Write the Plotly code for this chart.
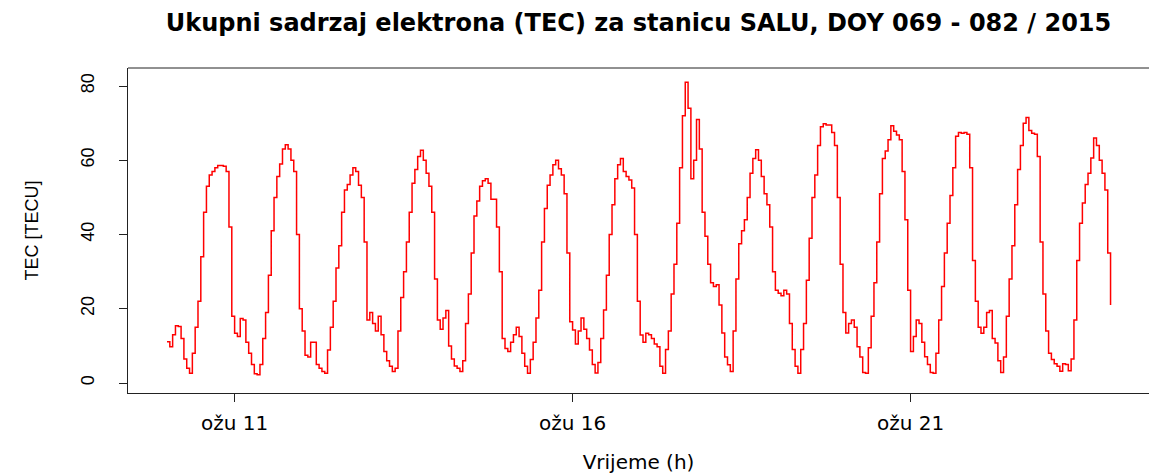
import pandas as pd
import plotly.graph_objects as go

# Hourly vertical TEC at station SALU, 2015-03-10 00:00 .. 2015-03-23 23:00 (UTC)
start = "2015-03-10 00:00"
tec_mar10 = [11.1, 9.8, 13, 15.4, 15.2, 12, 6.5, 4.0, 2.6, 8, 15, 22, 34, 46, 53, 56, 57, 58, 58.6, 58.6, 58.4, 57, 42, 18]
tec_mar11 = [13.4, 12.5, 17.4, 17, 11, 8, 5, 2.5, 2.2, 5, 12, 19, 29, 41, 50, 55.6, 59, 63, 64.2, 63, 60, 57, 40, 20]
tec_mar12 = [14, 7.5, 7, 11, 11, 5, 4.0, 3.1, 2.6, 8.9, 15, 22, 31, 37, 46, 52, 53.5, 56, 58, 57, 53.3, 50, 38, 17]
tec_mar13 = [19, 16, 14, 18, 13, 8.5, 6, 4.5, 3.1, 4, 14, 23, 30, 38, 46, 53.8, 57.5, 61, 62.7, 60, 56.5, 53, 46, 28]
tec_mar14 = [17, 14.5, 17.5, 19.5, 10, 6.5, 4.6, 4.0, 3.1, 6, 16, 24, 35, 45, 49, 53, 54.5, 55, 53.8, 49.5, 49.5, 42, 30, 12]
tec_mar15 = [9.3, 8.5, 11, 13, 15, 12.5, 8, 4.5, 2.6, 6.3, 11, 17.5, 25, 38, 47, 53.3, 56, 58.8, 60, 57.7, 56, 51, 35, 16.5]
tec_mar16 = [14.3, 10.5, 14, 17.5, 14.5, 12, 8.9, 5, 2.7, 5.5, 12, 19.7, 29, 40, 48, 55, 58.8, 60.5, 57, 55.6, 54.7, 52.5, 40, 22]
tec_mar17 = [12.9, 11, 13.4, 13, 12, 10.5, 9.8, 4.5, 2.6, 9, 14, 24, 32, 43, 58, 72, 81, 74, 55, 60, 71, 63, 46, 39.5]
tec_mar18 = [32, 27, 26, 26.5, 21, 13.5, 7, 4.9, 3.1, 14, 28, 37.5, 41, 44, 50, 56.5, 60.5, 62.8, 60, 55.6, 51, 48, 42, 30]
tec_mar19 = [25, 24.2, 23.5, 25, 24, 16, 9, 4.5, 2.6, 9, 16, 27.7, 39, 50, 56, 64, 69, 69.8, 69.5, 69.5, 67.5, 64, 50, 32]
tec_mar20 = [19, 13.5, 16, 17, 15, 9.8, 7, 2.8, 2.6, 9.5, 18, 27, 38, 51, 60.5, 62.5, 65.5, 69.3, 67.8, 66.8, 65.5, 57, 44, 25]
tec_mar21 = [8.5, 12.5, 17, 16, 11, 7.1, 5, 2.8, 2.6, 8, 17, 26, 35, 43, 50.5, 58, 66.5, 67.5, 67.3, 67.5, 67, 58, 33, 22]
tec_mar22 = [15, 13.4, 15, 19, 19.5, 12, 10.8, 6, 2.8, 7, 18, 28, 37, 48, 57.5, 64, 70, 71.5, 68, 67.3, 67, 61, 38, 24]
tec_mar23 = [14, 8, 6.3, 5.2, 4.5, 3.2, 5.2, 5, 3.3, 6.5, 17, 33, 43, 48.5, 53.5, 56.5, 60.6, 66, 64, 60, 56.5, 52, 35, 21]

tick_dates = ["2015-03-11", "2015-03-16", "2015-03-21"]
tick_labels = ["ožu 11", "ožu 16", "ožu 21"]
y_ticks = [0, 20, 40, 60, 80]

tec = (tec_mar10 + tec_mar11 + tec_mar12 + tec_mar13 + tec_mar14 + tec_mar15 + tec_mar16
       + tec_mar17 + tec_mar18 + tec_mar19 + tec_mar20 + tec_mar21 + tec_mar22 + tec_mar23)
times = pd.date_range(start, periods=len(tec), freq="h")

FONT = "Liberation Sans"
WIDE = "DejaVu Sans"
AXIS = "#222222"

fig = go.Figure()
fig.add_trace(go.Scatter(
    x=times, y=tec, mode="lines",
    line=dict(color="#ff0000", width=1.5, shape="hv"),
    showlegend=False, hoverinfo="x+y",
))

fig.update_layout(
    width=1149, height=475,
    margin=dict(l=128, r=0, t=68, b=82),
    paper_bgcolor="white", plot_bgcolor="white",
    font=dict(family=FONT, color="#000000", size=17),
    title=dict(
        text="<b>Ukupni sadrzaj elektrona (TEC) za stanicu SALU, DOY 069 - 082 / 2015</b>",
        x=0.5, xanchor="center", xref="paper", y=0.953, yanchor="middle",
        font=dict(family=WIDE, size=24, color="#000000"),
    ),
    xaxis=dict(
        range=["2015-03-09 10:09", "2015-03-24 12:39"],
        tickvals=tick_dates, ticktext=tick_labels,
        showgrid=False, zeroline=False,
        showline=True, linecolor=AXIS, linewidth=1,
        ticks="outside", ticklen=8, tickcolor=AXIS, tickwidth=1,
        tickfont=dict(family=WIDE, size=20),
        ticklabelstandoff=4,
        title=dict(text="Vrijeme (h)", standoff=20, font=dict(family=WIDE, size=20)),
    ),
    yaxis=dict(
        range=[-2.69, 84.85],
        tickvals=y_ticks,
        tickangle=-90,
        showgrid=False, zeroline=False,
        showline=True, linecolor=AXIS, linewidth=1,
        ticks="outside", ticklen=8, tickcolor=AXIS, tickwidth=1,
        tickfont=dict(family=FONT, size=18),
        ticklabelstandoff=18,
        title=dict(text="TEC [TECU]", standoff=34, font=dict(family=FONT, size=18)),
    ),
    shapes=[dict(type="line", xref="paper", yref="paper", x0=0, x1=1, y0=1, y1=1,
                 line=dict(color=AXIS, width=1))],
)

fig.write_html("out.html")
